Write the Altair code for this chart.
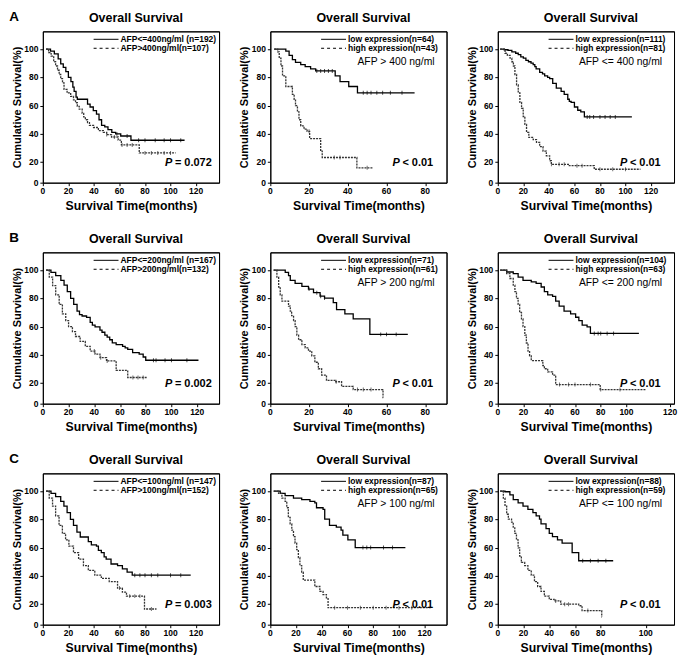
import altair as alt
import pandas as pd

FONT = "Liberation Sans"
W, H = 177, 152
Y_DOMAIN = [5.5, 112.5]

# tick positions and their labels
Y_TICKS = [5.5, 20, 40, 60, 80, 100]
Y_LABELS = ["0", "20", "40", "60", "80", "100"]
X120 = [0, 20, 40, 60, 80, 100, 120]
X120_LABELS = ["0", "20", "40", "60", "80", "100", "120"]
X80 = [0, 20, 40, 60, 80]
X80_LABELS = ["0", "20", "40", "60", "80"]
XB3 = [0, 20, 40, 60, 80, 100, 134]
XB3_LABELS = ["0", "20", "40", "60", "80", "100", "120"]
XC3 = [0, 20, 40, 60, 80, 115]
XC3_LABELS = ["0", "20", "40", "60", "80", "100"]

# ---------------- Row A (cut-off 400 ng/ml) ----------------
a1_low = [(2.5, 100), (6, 98.5), (9, 96.5), (12, 93), (14, 89.5), (16, 87), (18, 84), (20, 80),
          (22, 77), (23.5, 73), (24.5, 70), (26, 66), (27, 64.5), (35, 61), (37, 59), (39.5, 56.5),
          (42, 54), (44, 50), (46, 46), (48.5, 45), (51, 43), (54, 41), (57, 40), (61, 38.5),
          (69, 35.5), (111, 35.5)]
a1_high = [(2.5, 100), (4.5, 97.5), (6.5, 95), (8.5, 91), (10, 88), (11.5, 85), (12.8, 82), (14, 79),
           (15.4, 76), (16.6, 71.5), (19, 69), (21.8, 66.5), (24, 64), (25.6, 62), (27, 59.5),
           (28.5, 57.5), (30.8, 54.5), (32, 52), (33.3, 50), (35, 48), (36.5, 46), (39.7, 44.5),
           (43.5, 42.3), (47.4, 41), (50, 39.5), (53.8, 37.8), (59, 35.6), (61.5, 32.2), (75.5, 26.5),
           (104, 26.5)]
a1_low_cens = [58, 66, 75, 80, 88, 95, 100, 108]
a1_high_cens = [50, 56, 62, 66, 70, 80, 85, 90, 95, 100]

a2_low = [(2, 100), (8, 98.5), (9.7, 95.5), (11.4, 92.5), (13, 90.5), (15.7, 89), (18, 87.5), (20.8, 86),
          (23.4, 84.5), (33.5, 81), (36, 77), (40.5, 73.5), (45, 69), (74.5, 69)]
a2_high = [(2, 100), (3.8, 98), (4.6, 93.5), (5.5, 88), (6.3, 81), (8, 73.5), (11.4, 68), (12.3, 64.5),
           (13, 60), (14, 55.6), (14.8, 50), (15.7, 45.6), (17.4, 43.4), (19, 41.8), (20.3, 36.7),
           (26, 27.8), (26.8, 23.3), (44.7, 16), (53, 16)]
a2_low_cens = [24, 26, 28, 30, 32, 48, 50, 52, 55, 58, 62, 68]
a2_high_cens = [20, 33, 36, 50]

a3_low = [(1.8, 100), (5, 99.5), (8, 99), (11, 98), (14, 97), (16, 96), (18, 94.5), (20, 93.5), (22, 92),
          (24, 91), (26, 90), (27.7, 89), (29, 87.5), (30, 86), (32.8, 83.5), (35, 82.5), (36.7, 81),
          (39, 80), (40.6, 79), (43, 75.7), (45.8, 72.3), (49.6, 70), (52, 68), (54.8, 64.5), (56, 63),
          (57.4, 62.3), (60, 59), (62.6, 56.7), (65, 55.6), (67.8, 52), (105, 52)]
a3_high = [(1.8, 100), (5.7, 97), (7.5, 95.5), (9.6, 93.5), (11, 91), (12.2, 88), (13.4, 82), (14.7, 74.6),
           (16, 69), (17.3, 62.3), (18.6, 58), (19.9, 52.3), (21.2, 46.7), (22.5, 41), (24.3, 37.5),
           (27.7, 36), (30.3, 34), (32.8, 31), (35.4, 27.8), (38, 24.5), (40.6, 21), (41.9, 18.5),
           (56, 17.5), (75.5, 15), (111.7, 15)]
a3_low_cens = [70, 72, 75, 80, 84, 88, 92]
a3_high_cens = [42, 48, 52, 62, 66, 80, 90, 100]

# ---------------- Row B (cut-off 200 ng/ml) ----------------
b1_low = [(2.5, 100), (6.3, 98.4), (10, 96), (14, 92.7), (16.5, 89.3), (19, 84.8), (21.6, 80), (24, 75.7),
          (26.6, 71), (28.5, 68.5), (30.5, 67.5), (34, 66.5), (36.8, 63), (38.5, 61), (40.6, 59.8),
          (44.4, 57.5), (46, 56), (48.2, 54), (50, 52.5), (52, 50.7), (54, 48.5), (57, 47.3), (62, 46),
          (64, 45), (66, 43.9), (69.8, 41.6), (74.9, 40.5), (78, 38.5), (80, 36.2), (121, 36.2)]
b1_high = [(2.5, 100), (5, 95), (7.6, 89), (10, 82.5), (12.7, 75.7), (15.2, 69), (17.8, 64.3), (20, 60),
           (23, 56.4), (25.4, 53), (29, 49.5), (33, 46), (36.8, 42.7), (40.6, 40.5), (44.4, 38),
           (49.5, 35.7), (57, 29), (66, 24), (81, 24)]
b1_low_cens = [86, 88, 95, 100, 112]
b1_high_cens = [40, 45, 50, 70, 74, 78]

b2_low = [(1.7, 100), (7.7, 98.4), (9.4, 96), (10.3, 92.7), (12.8, 90.5), (16.3, 88.5), (19.7, 86.5),
          (22.3, 84), (25.7, 81.5), (28, 80.2), (32.5, 77), (34.2, 72), (38.5, 69), (42.8, 65.5),
          (51.4, 54.5), (71, 54.5)]
b2_high = [(1.7, 100), (3.4, 95), (4.3, 88), (5.1, 82.5), (6, 78), (9.4, 74.5), (10.3, 71), (11, 67.7),
           (12, 64.3), (12.8, 60), (13.7, 54), (14.6, 50.7), (16.3, 47.3), (18, 45), (19.7, 42.7),
           (21.4, 39.3), (23, 34.8), (24.8, 30.2), (26.5, 25.7), (29, 22), (33.4, 21), (36.8, 17.7),
           (42.8, 15.5), (58.2, 9.8), (58.3, 9.8)]
b2_low_cens = [20, 24, 26, 28, 57, 60, 65]
b2_high_cens = [34, 45, 48, 52]

b3_low = [(1.8, 100), (6.9, 98.6), (12, 97.5), (15.8, 95), (19.6, 92.7), (26, 91.6), (29.8, 90.5),
          (33.7, 88), (36.2, 84.8), (38.8, 82.5), (42.6, 81.4), (45, 78), (47.7, 74.5), (51.5, 71),
          (56.6, 69), (60.5, 66.6), (63, 64.3), (65.6, 61), (69.4, 59.8), (72, 55.2), (109.7, 55.2)]
b3_high = [(1.8, 100), (6.9, 97.5), (9.4, 94), (12, 89.3), (13.3, 84.8), (14.5, 80), (15.8, 75.7),
           (17, 70), (18.4, 65.5), (19.6, 60), (21, 54), (22.2, 48.4), (23.5, 42.7), (24.7, 39.3),
           (26, 36), (35, 32.5), (36.2, 30.2), (38.8, 28), (42.6, 25.7), (45, 19), (79.6, 15.5),
           (115, 15.5)]
b3_low_cens = [75, 78, 80, 85, 90]
b3_high_cens = [48, 55, 60, 72, 80, 95]

# ---------------- Row C (cut-off 100 ng/ml) ----------------
c1_low = [(2.5, 100), (6.4, 98.4), (10, 96), (14, 92.7), (16.5, 89.3), (19, 84.8), (21.6, 80), (24, 75.7),
          (26.7, 71), (29.3, 67.5), (35.6, 64.3), (38, 62), (42, 61), (43.5, 58), (45.8, 56.4),
          (48, 53.5), (49.6, 51.8), (53.4, 48.4), (58.5, 47.3), (62.3, 45), (66, 42.7), (70, 40.5),
          (115.8, 40.5)]
c1_high = [(2.5, 100), (5, 95), (7.6, 89.3), (10, 82.5), (12.7, 75.7), (15.3, 70), (17.8, 65.5),
           (20.4, 61), (24, 56.4), (28, 51.8), (31.8, 47.3), (35.6, 43.9), (40.7, 40.5), (45.8, 38.2),
           (52, 36), (58.5, 31.4), (62.3, 28.5), (65.5, 25.7), (79.6, 16.6), (89, 16.6)]
c1_low_cens = [72, 76, 80, 85, 90, 100, 108]
c1_high_cens = [60, 68, 72, 76, 85]

c2_low = [(2.6, 100), (7.7, 98.4), (11.5, 96.8), (18, 95), (24.4, 93.9), (30.8, 92.7), (34.6, 91.6),
          (35.9, 88.2), (41, 87), (42.3, 80.2), (46, 75.7), (51.3, 74.5), (55, 72.3), (56.4, 68.9),
          (60.3, 65.5), (66, 60), (105, 60)]
c2_high = [(2.6, 100), (6.4, 98.4), (9, 95), (11.5, 92.7), (12.8, 88.2), (14, 81.4), (15.4, 76.8),
           (16.7, 72.3), (18, 67.7), (19.2, 63.2), (20.5, 58.6), (21.8, 53), (23, 47.3), (24.4, 42.7),
           (25.6, 37), (34.6, 32.5), (38.5, 29), (41, 26.8), (43.6, 24.5), (44.9, 17.5), (125, 17.5)]
c2_low_cens = [72, 75, 78, 88, 95]
c2_high_cens = [50, 60, 70, 80, 90, 100, 110]

c3_low = [(1.8, 100), (5.6, 99.5), (9.4, 97.3), (12, 93.9), (15.8, 91.6), (19.6, 89.3), (23.4, 87),
          (27.3, 84.8), (29.8, 82.5), (32.4, 80.2), (33.6, 76.8), (37.5, 73.4), (40, 70), (42.5, 67.7),
          (46.4, 65.5), (50, 63.2), (57.8, 56.4), (62.9, 50.7), (89.7, 50.7)]
c3_high = [(1.8, 100), (4.3, 95), (5.6, 89.3), (6.9, 83.6), (8.2, 80.2), (10.7, 78), (12, 74.5),
           (13.2, 70), (14.5, 65.5), (15.8, 59.8), (17, 54), (18.3, 49.5), (20.9, 47.3), (23.4, 43.9),
           (26, 40.5), (28.5, 36), (31, 32.5), (33.6, 29), (36.2, 25.7), (40, 23.4), (43.8, 22.3),
           (48.9, 20), (62.9, 18.9), (65.5, 15.5), (80.8, 11), (80.9, 11)]
c3_low_cens = [66, 72, 78, 84]
c3_high_cens = [45, 52, 55, 70]

ONE = pd.DataFrame({"k": [0]})


def steps(points):
    return pd.DataFrame(points, columns=["t", "s"])


def censored(points, times):
    out = []
    for c in times:
        level = points[0][1]
        for t, v in points:
            if t <= c:
                level = v
        out.append((c, level))
    return pd.DataFrame(out, columns=["t", "s"])


def txt(text, x, y, size, weight="bold", style="normal", align="left"):
    return alt.Chart(ONE).mark_text(
        text=text, font=FONT, fontSize=size, fontWeight=weight, fontStyle=style,
        align=align, baseline="middle", color="black"
    ).encode(x=alt.value(x), y=alt.value(y))


def hrule(x1, x2, y, dash=None):
    kw = dict(color="black", strokeWidth=1)
    if dash:
        kw["strokeDash"] = dash
    return alt.Chart(ONE).mark_rule(**kw).encode(x=alt.value(x1), x2=alt.value(x2), y=alt.value(y))


def panel(low, high, low_c, high_c, xmax, xvals, xlabels, leg1, leg2, note, p_rest, letter=None):
    xscale = alt.Scale(domain=[0, xmax], nice=False, zero=False)
    yscale = alt.Scale(domain=Y_DOMAIN, nice=False, zero=False)
    xaxis = alt.Axis(values=xvals, labels=False, title="Survival Time(months)", titlePadding=13)
    yaxis = alt.Axis(values=Y_TICKS, labels=False, title="Cumulative Survival(%)", titlePadding=17)

    def X(f, axis=False):
        if axis:
            return alt.X(f, type="quantitative", scale=xscale, axis=xaxis)
        return alt.X(f, type="quantitative", scale=xscale, axis=None)

    def Y(f, axis=False):
        if axis:
            return alt.Y(f, type="quantitative", scale=yscale, axis=yaxis)
        return alt.Y(f, type="quantitative", scale=yscale, axis=None)

    solid = alt.Chart(steps(low)).mark_line(
        interpolate="step-after", color="black", strokeWidth=1.3
    ).encode(x=X("t", True), y=Y("s", True))

    # top and right borders of the box, drawn as domain-only axes
    box = pd.DataFrame({"x0": [0], "y0": [Y_DOMAIN[0]]})
    border = alt.Chart(box).mark_point(opacity=0).encode(
        x=alt.X("x0", type="quantitative", scale=xscale,
                axis=alt.Axis(orient="top", labels=False, ticks=False, title="")),
        y=alt.Y("y0", type="quantitative", scale=yscale,
                axis=alt.Axis(orient="right", labels=False, ticks=False, title="")))

    dashed = alt.Chart(steps(high)).mark_line(
        interpolate="step-after", color="#333333", strokeWidth=1.3, strokeDash=[2, 1]
    ).encode(x=X("t"), y=Y("s"))
    cs = alt.Chart(censored(low, low_c)).mark_tick(
        orient="vertical", size=4, thickness=1, color="black").encode(x=X("t"), y=Y("s"))
    ch = alt.Chart(censored(high, high_c)).mark_tick(
        orient="vertical", size=4, thickness=1, color="#333333").encode(x=X("t"), y=Y("s"))

    xl = alt.Chart(pd.DataFrame({"v": xvals, "lab": xlabels})).mark_text(
        font=FONT, fontSize=8.5, fontWeight="bold", color="black", baseline="top", align="center"
    ).encode(x=X("v"), y=alt.value(H + 4), text="lab:N")
    yl = alt.Chart(pd.DataFrame({"v": Y_TICKS, "lab": Y_LABELS})).mark_text(
        font=FONT, fontSize=8.5, fontWeight="bold", color="black", baseline="middle", align="right"
    ).encode(y=Y("v"), x=alt.value(-4.5), text="lab:N")

    layers = [solid, border, dashed, cs, ch, xl, yl,
              hrule(51, 76, 8), hrule(51, 76, 17, dash=[3, 3]),
              txt(leg1, 78, 8, 8.5), txt(leg2, 78, 17, 8.5),
              txt("P", 0.693 * W, 0.867 * H, 11, style="italic"),
              txt(p_rest, 0.693 * W + 10, 0.867 * H, 11),
              txt("Overall Survival", W / 2 + 5, -13, 12.5, align="center")]
    if note:
        layers.append(txt(note, W - 12, 0.2025 * H, 10.4, weight="normal", align="right"))
    if letter:
        layers.append(txt(letter, -29, -14, 13.5, align="center"))
    return alt.layer(*layers).resolve_axis(x="independent", y="independent").properties(
        width=W, height=H)


A1 = panel(a1_low, a1_high, a1_low_cens, a1_high_cens, 138, X120, X120_LABELS,
           "AFP<=400ng/ml (n=192)", "AFP>400ng/ml(n=107)", None, "= 0.072", letter="A")
A2 = panel(a2_low, a2_high, a2_low_cens, a2_high_cens, 91, X80, X80_LABELS,
           "low expression(n=64)", "high expression(n=43)", "AFP > 400 ng/ml", "< 0.01")
A3 = panel(a3_low, a3_high, a3_low_cens, a3_high_cens, 138, X120, X120_LABELS,
           "low expression(n=111)", "high expression(n=81)", "AFP <= 400 ng/ml", "< 0.01")

B1 = panel(b1_low, b1_high, b1_low_cens, b1_high_cens, 137, X120, X120_LABELS,
           "AFP<=200ng/ml (n=167)", "AFP>200ng/ml(n=132)", None, "= 0.002", letter="B")
B2 = panel(b2_low, b2_high, b2_low_cens, b2_high_cens, 91, X80, X80_LABELS,
           "low expression(n=71)", "high expression(n=61)", "AFP > 200 ng/ml", "< 0.01")
B3 = panel(b3_low, b3_high, b3_low_cens, b3_high_cens, 137, XB3, XB3_LABELS,
           "low expression(n=104)", "high expression(n=63)", "AFP <= 200 ng/ml", "< 0.01")

C1 = panel(c1_low, c1_high, c1_low_cens, c1_high_cens, 138, X120, X120_LABELS,
           "AFP<=100ng/ml (n=147)", "AFP>100ng/ml(n=152)", None, "= 0.003", letter="C")
C2 = panel(c2_low, c2_high, c2_low_cens, c2_high_cens, 137, X120, X120_LABELS,
           "low expression(n=87)", "high expression(n=65)", "AFP > 100 ng/ml", "< 0.01")
C3 = panel(c3_low, c3_high, c3_low_cens, c3_high_cens, 137, XC3, XC3_LABELS,
           "low expression(n=88)", "high expression(n=59)", "AFP <= 100 ng/ml", "< 0.01")

chart = alt.concat(
    A1, A2, A3, B1, B2, B3, C1, C2, C3,
    columns=3, spacing={"row": 70, "column": 51.5}, bounds="flush", padding=0
).configure_view(
    stroke="black", strokeWidth=1
).configure_axis(
    grid=False, domainColor="black", domainWidth=1, tickColor="black", tickWidth=1, tickSize=3,
    titleFont=FONT, titleFontWeight="bold", titleColor="black"
).configure_axisX(
    titleFontSize=12.3
).configure_axisY(
    titleFontSize=11
)

chart.save("out.html", embed_options={"renderer": "svg", "actions": False})
